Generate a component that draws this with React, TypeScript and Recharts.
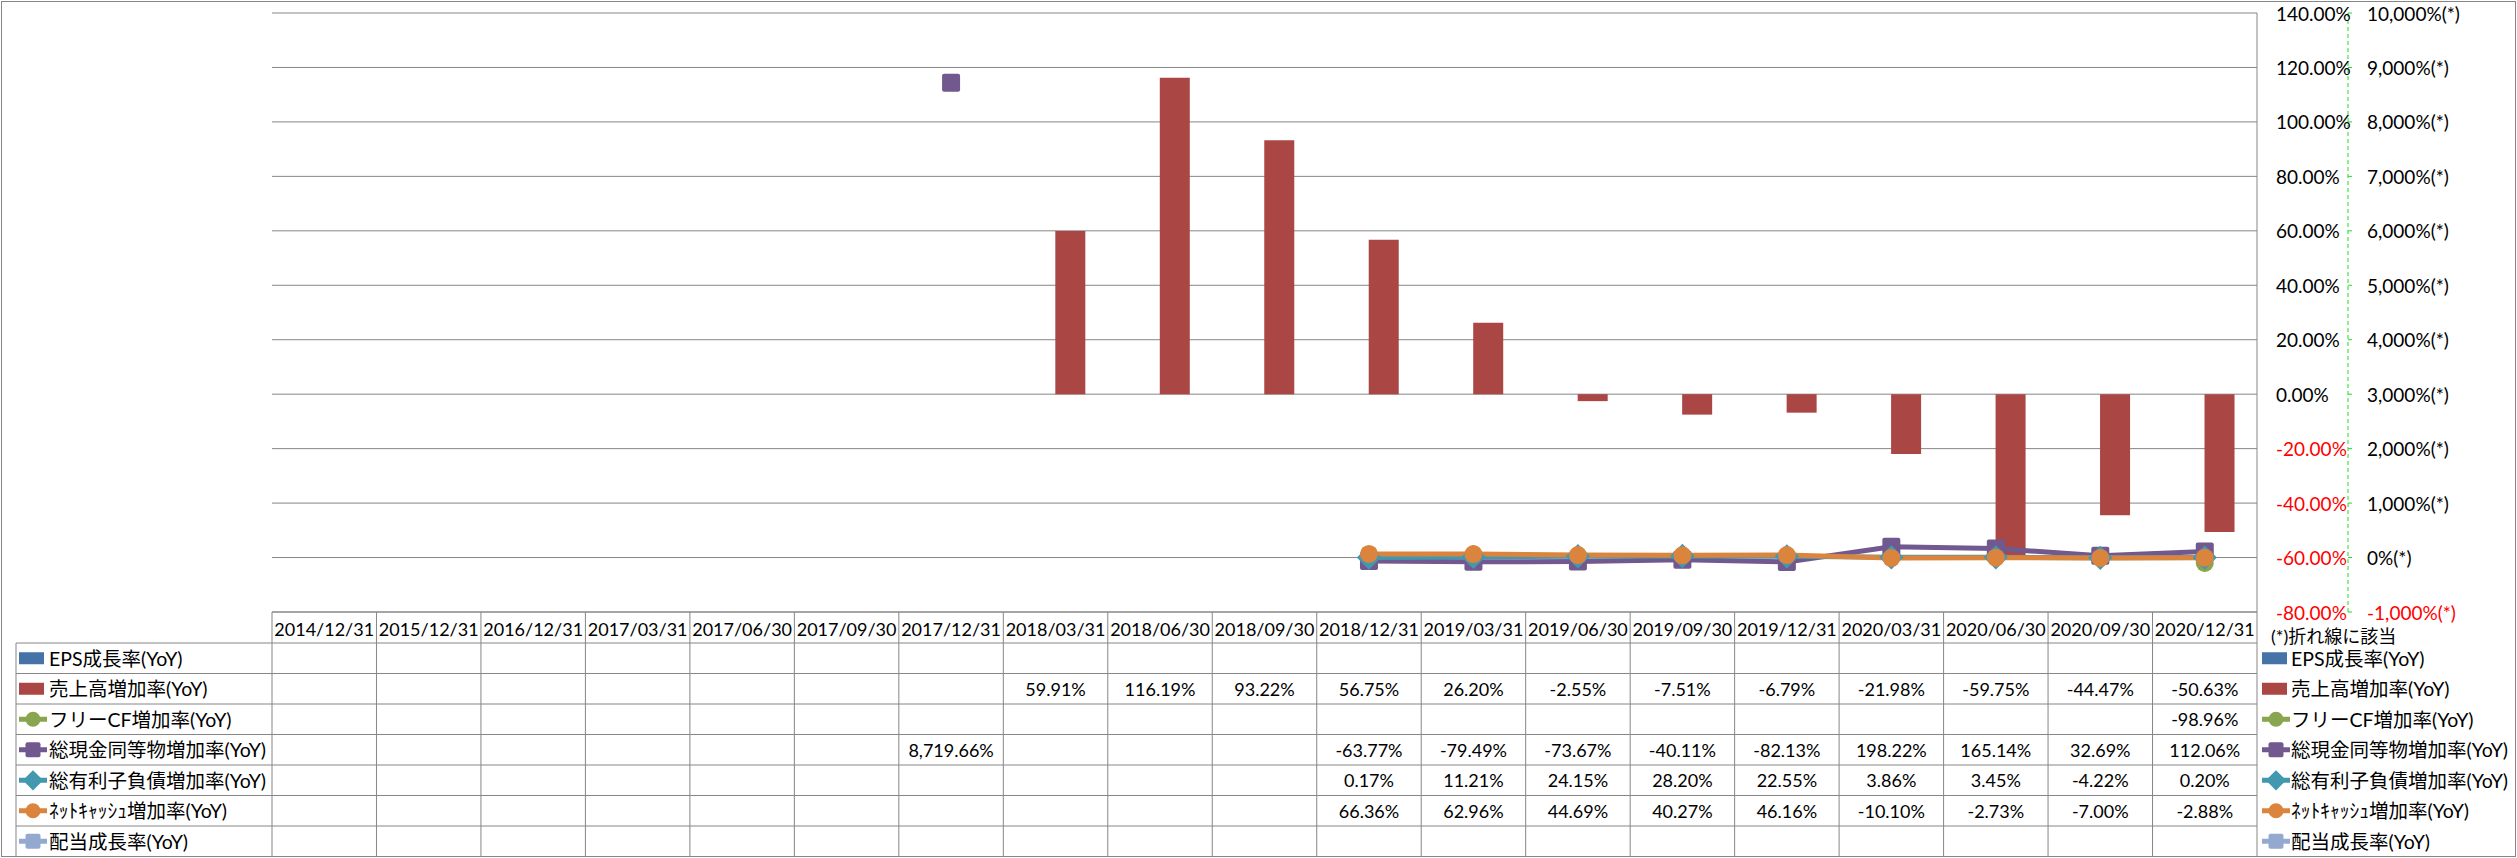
import React from 'react';
import { ComposedChart, Bar, Line, XAxis, YAxis, CartesianGrid } from 'recharts';

// categories
const DATES = [
  '2014/12/31', '2015/12/31', '2016/12/31', '2017/03/31', '2017/06/30', '2017/09/30',
  '2017/12/31', '2018/03/31', '2018/06/30', '2018/09/30', '2018/12/31', '2019/03/31',
  '2019/06/30', '2019/09/30', '2019/12/31', '2020/03/31', '2020/06/30', '2020/09/30', '2020/12/31',
];

// series (YoY %) — bars use the left scale, lines the (*) scale
const EPS_GROWTH = [null, null, null, null, null, null, null, null, null, null, null, null, null, null, null, null, null, null, null];
const SALES_GROWTH = [null, null, null, null, null, null, null, 59.91, 116.19, 93.22, 56.75, 26.2, -2.55, -7.51, -6.79, -21.98, -59.75, -44.47, -50.63];
const FCF_GROWTH = [null, null, null, null, null, null, null, null, null, null, null, null, null, null, null, null, null, null, -98.96];
const CASH_GROWTH = [null, null, null, null, null, null, 8719.66, null, null, null, -63.77, -79.49, -73.67, -40.11, -82.13, 198.22, 165.14, 32.69, 112.06];
const DEBT_GROWTH = [null, null, null, null, null, null, null, null, null, null, 0.17, 11.21, 24.15, 28.2, 22.55, 3.86, 3.45, -4.22, 0.2];
const NETCASH_GROWTH = [null, null, null, null, null, null, null, null, null, null, 66.36, 62.96, 44.69, 40.27, 46.16, -10.1, -2.73, -7.0, -2.88];
const DIV_GROWTH = [null, null, null, null, null, null, null, null, null, null, null, null, null, null, null, null, null, null, null];

// tick labels
const PRIMARY_TICKS = [140, 120, 100, 80, 60, 40, 20, 0, -20, -40, -60, -80];
const SECONDARY_TICKS = [10000, 9000, 8000, 7000, 6000, 5000, 4000, 3000, 2000, 1000, 0, -1000];

const SERIES = [
  { key: 'eps', name: 'EPS成長率(YoY)', color: '#4572A7', shape: 'bar', values: EPS_GROWTH },
  { key: 'sales', name: '売上高増加率(YoY)', color: '#AA4643', shape: 'bar', values: SALES_GROWTH },
  { key: 'fcf', name: 'フリーCF増加率(YoY)', color: '#89A54E', shape: 'circle', values: FCF_GROWTH },
  { key: 'cash', name: '総現金同等物増加率(YoY)', color: '#71588F', shape: 'square', values: CASH_GROWTH },
  { key: 'debt', name: '総有利子負債増加率(YoY)', color: '#4198AF', shape: 'diamond', values: DEBT_GROWTH },
  { key: 'netcash', name: 'ﾈｯﾄｷｬｯｼｭ増加率(YoY)', color: '#DB843D', shape: 'circle', values: NETCASH_GROWTH },
  { key: 'div', name: '配当成長率(YoY)', color: '#93A9CF', shape: 'square', values: DIV_GROWTH },
];

const data = DATES.map((date, i) => {
  const row: any = { date };
  SERIES.forEach((s) => { row[s.key] = s.values[i]; });
  return row;
});

const W = 2517;
const H = 858;
const PLOT_LEFT = 272;
const PLOT_RIGHT = 2257;
const TABLE_TOP = 612;
const HEADER_H = 31;
const ROW_H = 30.5;
const TABLE_LEFT = 16;
const TABLE_BOTTOM = TABLE_TOP + HEADER_H + ROW_H * 7;
const COL_W = (PLOT_RIGHT - PLOT_LEFT) / DATES.length;
const GRID = '#868686';
const FONT = "Lato, 'Noto Sans CJK JP', sans-serif";

const fmtPct = (v: number) =>
  v.toLocaleString('en-US', { minimumFractionDigits: 2, maximumFractionDigits: 2 }) + '%';

const Marker = ({ shape, color, cx, cy, r }: any) => {
  if (shape === 'square')
    return <rect x={cx - r} y={cy - r} width={r * 2} height={r * 2} rx={2} fill={color} />;
  if (shape === 'diamond') {
    const d = r * 1.35;
    return <path d={`M${cx},${cy - d}L${cx + d},${cy}L${cx},${cy + d}L${cx - d},${cy}Z`} fill={color} />;
  }
  return <circle cx={cx} cy={cy} r={r} fill={color} />;
};

const LegendKey = ({ s, x, cy }: any) => {
  if (s.shape === 'bar') return <rect x={x} y={cy - 6} width={25} height={12} fill={s.color} />;
  return (
    <g>
      <line x1={x} y1={cy} x2={x + 28} y2={cy} stroke={s.color} strokeWidth={5} />
      <Marker shape={s.shape} color={s.color} cx={x + 14} cy={cy} r={7.5} />
    </g>
  );
};

const TableColumn = (props: any) => {
  const { x, payload } = props;
  const i = payload.index;
  const left = x - COL_W / 2;
  const right = x + COL_W / 2;
  const rows = SERIES.map((s, r) => TABLE_TOP + HEADER_H + ROW_H * r);
  return (
    <g fontFamily={FONT}>
      {i === 0 && (
        <g>
          <line x1={left} y1={TABLE_TOP} x2={left} y2={TABLE_BOTTOM} stroke={GRID} />
          <line x1={TABLE_LEFT} y1={TABLE_TOP + HEADER_H} x2={TABLE_LEFT} y2={TABLE_BOTTOM} stroke={GRID} />
          {rows.map((y, r) => (
            <g key={r}>
              <line x1={TABLE_LEFT} y1={y} x2={left} y2={y} stroke={GRID} />
              <LegendKey s={SERIES[r]} x={TABLE_LEFT + 3} cy={y + ROW_H / 2} />
              <text x={TABLE_LEFT + 33} y={y + ROW_H / 2} dominantBaseline="central" fontSize={19.5} fill="#000">
                {SERIES[r].name}
              </text>
            </g>
          ))}
        </g>
      )}
      <line x1={right} y1={TABLE_TOP} x2={right} y2={TABLE_BOTTOM} stroke={GRID} />
      <line x1={left} y1={TABLE_TOP} x2={right} y2={TABLE_TOP} stroke={GRID} />
      <text x={x} y={TABLE_TOP + HEADER_H / 2 + 1} textAnchor="middle" dominantBaseline="central" fontSize={18} fill="#000">
        {payload.value}
      </text>
      {rows.map((y, r) => {
        const v = SERIES[r].values[i];
        return (
          <g key={r}>
            <line x1={left} y1={y} x2={right} y2={y} stroke={GRID} />
            {v != null && (
              <text x={x} y={y + ROW_H / 2} textAnchor="middle" dominantBaseline="central" fontSize={18} fill="#000">
                {fmtPct(v)}
              </text>
            )}
          </g>
        );
      })}
    </g>
  );
};

const PrimaryTick = (props: any) => {
  const { x, y, payload } = props;
  return (
    <text x={x} y={y} dominantBaseline="central" fontSize={19} fontFamily={FONT} fill={payload.value < 0 ? '#FF0000' : '#000'}>
      {payload.value.toFixed(2)}%
    </text>
  );
};

const SecondaryTick = (props: any) => {
  const { x, y, payload } = props;
  return (
    <text x={x} y={y} dominantBaseline="central" fontSize={19} fontFamily={FONT} fill={payload.value < 0 ? '#FF0000' : '#000'}>
      {payload.value.toLocaleString('en-US')}%(*)
    </text>
  );
};

const makeDot = (shape: string, color: string) => (p: any) => {
  if (p.value == null || p.cy == null) return <g key={p.key} />;
  return <g key={p.key}><Marker shape={shape} color={color} cx={p.cx} cy={p.cy} r={9} /></g>;
};

export default function App() {
  const lines = SERIES.filter((s) => s.shape !== 'bar');
  return (
    <div style={{ position: 'absolute', left: 0, top: 0, width: W, height: H, background: '#fff' }}>
      <ComposedChart width={W} height={H} data={data} barGap={0} margin={{ top: 13, right: 0, left: PLOT_LEFT, bottom: 0 }}>
        <CartesianGrid yAxisId="pri" vertical={false} stroke={GRID} />
        <XAxis dataKey="date" height={H - TABLE_TOP} axisLine={false} tickLine={false} interval={0} tick={<TableColumn />} />
        <YAxis
          yAxisId="pri"
          orientation="right"
          width={91}
          domain={[-80, 140]}
          ticks={PRIMARY_TICKS}
          axisLine={{ stroke: GRID }}
          tickLine={false}
          tickSize={0}
          tickMargin={19}
          tick={<PrimaryTick />}
        />
        <YAxis
          yAxisId="sec"
          orientation="right"
          width={169}
          domain={[-1000, 10000]}
          ticks={SECONDARY_TICKS}
          axisLine={{ stroke: '#22DD22', strokeDasharray: '4 3' }}
          tickLine={{ stroke: '#22DD22' }}
          tickSize={4}
          tickMargin={15}
          tick={<SecondaryTick />}
        />
        {SERIES.filter((s) => s.shape === 'bar').map((s) => (
          <Bar key={s.key} yAxisId="pri" dataKey={s.key} name={s.name} fill={s.color} barSize={30} isAnimationActive={false} />
        ))}
        {lines.map((s) => (
          <Line
            key={s.key}
            yAxisId="sec"
            dataKey={s.key}
            name={s.name}
            stroke={s.color}
            strokeWidth={5}
            dot={makeDot(s.shape, s.color)}
            activeDot={false}
            isAnimationActive={false}
          />
        ))}
      </ComposedChart>
      <svg width={W} height={H} style={{ position: 'absolute', left: 0, top: 0, pointerEvents: 'none' }} fontFamily={FONT}>
        <rect x={1.5} y={1.5} width={W - 3} height={H - 3} fill="none" stroke={GRID} />
        <text x={2271} y={636} dominantBaseline="central" fontSize={18} fill="#000">(*)折れ線に該当</text>
        {SERIES.map((s, r) => {
          const cy = TABLE_TOP + HEADER_H + ROW_H * r + ROW_H / 2;
          return (
            <g key={s.key}>
              <LegendKey s={s} x={2262} cy={cy} />
              <text x={2291} y={cy} dominantBaseline="central" fontSize={19.5} fill="#000">{s.name}</text>
            </g>
          );
        })}
      </svg>
    </div>
  );
}
